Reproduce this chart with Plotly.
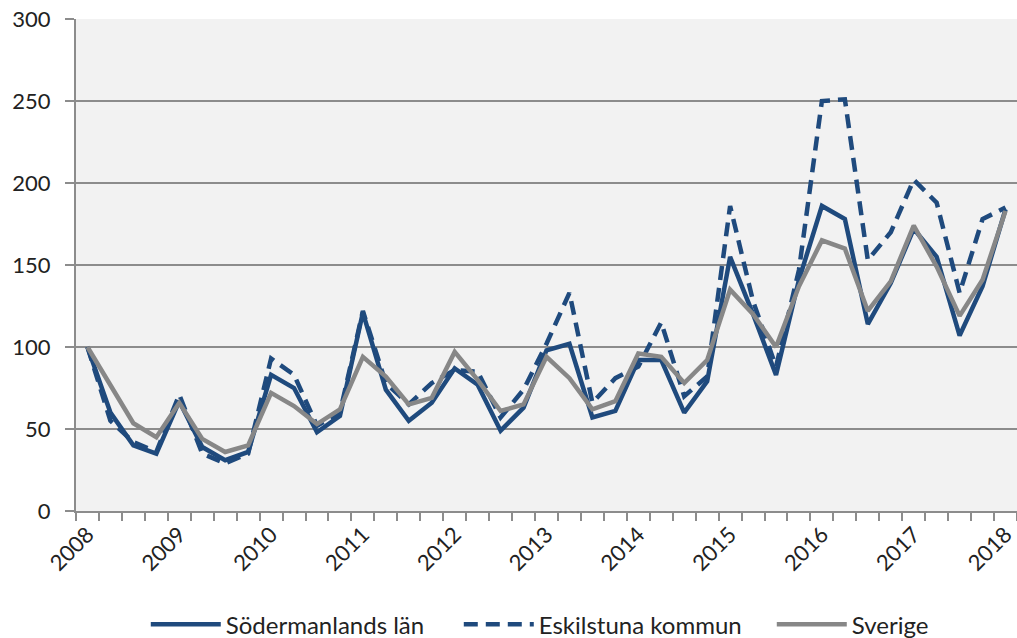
import plotly.graph_objects as go

years = list(range(2008, 2019))
quarters = [f"{y} K{q}" for y in years for q in (1, 2, 3, 4)][:41]
tick_labels = [str(y) if i % 4 == 0 else "" for i, y in
               ((i, 2008 + i // 4) for i in range(41))]

sodermanland = [100, 60, 40, 35, 67, 39, 31, 36, 83, 75, 48, 58, 121, 74, 55, 66,
                87, 77, 49, 63, 98, 102, 57, 61, 92, 92, 60, 79, 155, 120, 83, 141,
                186, 178, 114, 139, 172, 155, 107, 137, 184]
eskilstuna = [100, 55, 42, 36, 71, 35, 29, 35, 93, 83, 52, 60, 122, 78, 65, 78,
              86, 85, 57, 74, 102, 133, 66, 81, 88, 115, 70, 82, 186, 128, 88, 147,
              250, 251, 153, 170, 202, 188, 133, 178, 185]
sverige = [100, 77, 53.5, 45, 66, 44, 36, 40, 72, 64, 53, 62, 94, 82, 65, 69,
           97, 80, 61, 65, 94, 81, 62, 67, 96, 94, 78, 92, 135, 120, 100, 137,
           165, 160, 122, 140, 174, 149, 119, 141, 183]

BLUE = "#1F4A7D"
GRAY = "#878787"
AX = "#8C8C8C"
FONT = "Lato"

fig = go.Figure()
fig.add_trace(go.Scatter(x=quarters, y=sodermanland, mode="lines", name="Södermanlands län",
                         line=dict(color=BLUE, width=4.5)))
fig.add_trace(go.Scatter(x=quarters, y=eskilstuna, mode="lines", name="Eskilstuna kommun",
                         line=dict(color=BLUE, width=4.5, dash="14px,8px")))
fig.add_trace(go.Scatter(x=quarters, y=sverige, mode="lines", name="Sverige",
                         line=dict(color=GRAY, width=4.5)))

fig.update_layout(
    width=1017, height=638,
    margin=dict(l=76, r=0, t=19, b=127),
    paper_bgcolor="white",
    plot_bgcolor="#F2F2F2",
    font=dict(family=FONT, size=22, color="#222222"),
    showlegend=True,
    legend=dict(orientation="h", xref="container", yref="container",
                x=0.605, xanchor="center", y=0.056, yanchor="top",
                font=dict(family=FONT, size=24, color="#222222"),
                bgcolor="rgba(0,0,0,0)", itemwidth=70, entrywidth=228,
                traceorder="normal"),
    xaxis=dict(
        type="category", automargin=False,
        tickmode="array", tickvals=quarters, ticktext=tick_labels,
        tickson="boundaries", ticks="outside", ticklen=8, tickcolor=AX, tickwidth=1.5,
        showline=True, linecolor=AX, linewidth=2,
        showgrid=False, tickangle=-45, zeroline=False,
        range=[-0.5, 40.5],
    ),
    yaxis=dict(
        range=[0, 300], dtick=50, tick0=0, automargin=False,
        ticks="outside", ticklen=9, tickcolor=AX, tickwidth=1.5,
        showline=True, linecolor=AX, linewidth=2,
        showgrid=True, gridcolor=AX, gridwidth=1.5, zeroline=False,
        ticklabelstandoff=10,
    ),
)

post = ("document.body.style.margin='0';"
        "document.documentElement.style.overflow='hidden';"
        "document.body.style.overflow='hidden';"
        "var gd=document.getElementById('{plot_id}');"
        "Plotly.relayout(gd,{width:1017,height:638});")

fig.write_html("out.html", post_script=post, config={"displayModeBar": False})
